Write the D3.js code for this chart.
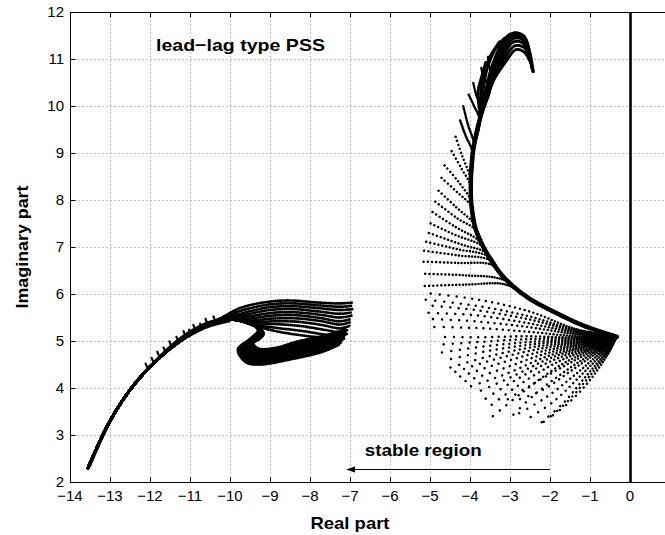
<!DOCTYPE html>
<html>
<head>
<meta charset="utf-8">
<script src="https://cdn.jsdelivr.net/npm/d3@7/dist/d3.min.js"></script>
<style>
  body { margin: 0; background: #fff; }
  svg { display: block; }
  text { font-family: "Liberation Sans", Arial, Helvetica, sans-serif; fill: #000; }
</style>
</head>
<body>
<div id="chart"></div>
<script>
// ---- data ----
var xTicks = [-14, -13, -12, -11, -10, -9, -8, -7, -6, -5, -4, -3, -2, -1, 0, 1];
var yTicks = [2, 3, 4, 5, 6, 7, 8, 9, 10, 11, 12];

// left cluster: common tail, hairs, striped fan, hooked blob
var leftTail = [[-13.55, 2.3], [-13.05, 3.22], [-12.55, 3.9], [-12.0, 4.45], [-11.25, 5.0], [-10.6, 5.32], [-10.0, 5.46]];
var leftTail2 = [[-13.5, 2.34], [-13.0, 3.27], [-12.5, 3.96], [-11.95, 4.51], [-11.25, 5.06], [-10.6, 5.38], [-10.05, 5.51]];
var leftTail3 = [[-13.56, 2.29], [-13.08, 3.19], [-12.58, 3.86], [-12.04, 4.41], [-11.28, 4.96], [-10.6, 5.28], [-10.0, 5.42]];
var leftHairs = [
  [[-12.05, 4.4], [-12.11, 4.52]],
  [[-11.9, 4.52], [-11.96, 4.64]],
  [[-11.75, 4.63], [-11.82, 4.78]],
  [[-11.6, 4.74], [-11.66, 4.86]],
  [[-11.45, 4.85], [-11.52, 5.0]],
  [[-11.28, 4.97], [-11.34, 5.09]],
  [[-11.1, 5.07], [-11.17, 5.23]],
  [[-10.98, 5.14], [-11.03, 5.25]],
  [[-10.85, 5.2], [-10.92, 5.35]],
  [[-10.7, 5.27], [-10.75, 5.38]],
  [[-10.55, 5.33], [-10.62, 5.49]],
  [[-10.35, 5.38], [-10.42, 5.54]]
];
var leftStripes = [
  [[-10.2, 5.5], [-9.75, 5.7], [-9.0, 5.84], [-8.42, 5.86], [-7.83, 5.82], [-7.25, 5.8], [-6.92, 5.82]],
  [[-10.2, 5.49], [-9.7, 5.65], [-9.0, 5.78], [-8.4, 5.8], [-7.8, 5.76], [-7.25, 5.73], [-6.93, 5.75]],
  [[-10.15, 5.48], [-9.65, 5.6], [-9.0, 5.72], [-8.4, 5.74], [-7.8, 5.7], [-7.25, 5.66], [-6.94, 5.68]],
  [[-10.1, 5.47], [-9.6, 5.56], [-9.0, 5.66], [-8.4, 5.68], [-7.8, 5.63], [-7.25, 5.58], [-6.95, 5.61]],
  [[-10.05, 5.47], [-9.55, 5.52], [-8.95, 5.6], [-8.35, 5.61], [-7.75, 5.56], [-7.25, 5.5], [-6.96, 5.54]],
  [[-10.0, 5.46], [-9.5, 5.48], [-8.95, 5.54], [-8.35, 5.55], [-7.75, 5.49], [-7.25, 5.42], [-6.98, 5.47]],
  [[-10.0, 5.46], [-9.45, 5.44], [-8.9, 5.48], [-8.3, 5.48], [-7.7, 5.42], [-7.25, 5.35], [-7.0, 5.4]],
  [[-10.0, 5.46], [-9.4, 5.4], [-8.9, 5.42], [-8.3, 5.41], [-7.7, 5.34], [-7.25, 5.27], [-7.02, 5.32]],
  [[-10.0, 5.46], [-9.35, 5.36], [-8.85, 5.36], [-8.25, 5.32], [-7.65, 5.24], [-7.25, 5.19], [-7.05, 5.24]],
  [[-10.0, 5.46], [-9.3, 5.33], [-8.85, 5.28], [-8.25, 5.22], [-7.65, 5.14], [-7.28, 5.1], [-7.08, 5.15]],
  [[-10.0, 5.46], [-9.3, 5.3], [-8.8, 5.2], [-8.2, 5.12], [-7.6, 5.06], [-7.3, 5.02], [-7.12, 5.06]]
];
var leftHooks = [
  [[-9.45, 5.36], [-9.3, 5.22], [-9.52, 5.03], [-9.8, 4.82], [-9.62, 4.56], [-9.3, 4.5], [-8.5, 4.61], [-7.7, 4.77], [-7.26, 4.93]],
  [[-9.45, 5.36], [-9.28, 5.21], [-9.48, 5.03], [-9.75, 4.83], [-9.58, 4.59], [-9.25, 4.53], [-8.48, 4.65], [-7.69, 4.81], [-7.22, 4.97]],
  [[-9.45, 5.36], [-9.26, 5.2], [-9.45, 5.03], [-9.72, 4.85], [-9.55, 4.62], [-9.2, 4.57], [-8.45, 4.69], [-7.68, 4.85], [-7.2, 5.01]],
  [[-9.43, 5.35], [-9.25, 5.19], [-9.42, 5.03], [-9.68, 4.86], [-9.52, 4.65], [-9.15, 4.6], [-8.43, 4.73], [-7.66, 4.89], [-7.18, 5.04]],
  [[-9.42, 5.35], [-9.24, 5.19], [-9.4, 5.03], [-9.64, 4.87], [-9.49, 4.68], [-9.1, 4.63], [-8.42, 4.76], [-7.65, 4.92], [-7.16, 5.07]],
  [[-9.4, 5.34], [-9.22, 5.18], [-9.36, 5.03], [-9.6, 4.89], [-9.45, 4.71], [-9.05, 4.67], [-8.4, 4.8], [-7.62, 4.96], [-7.14, 5.1]],
  [[-9.39, 5.33], [-9.21, 5.17], [-9.34, 5.04], [-9.57, 4.9], [-9.42, 4.73], [-9.01, 4.7], [-8.39, 4.83], [-7.61, 4.99], [-7.13, 5.13]],
  [[-9.38, 5.33], [-9.2, 5.17], [-9.32, 5.04], [-9.54, 4.91], [-9.4, 4.75], [-8.98, 4.73], [-8.38, 4.86], [-7.6, 5.02], [-7.12, 5.16]],
  [[-9.37, 5.32], [-9.19, 5.16], [-9.3, 5.05], [-9.51, 4.92], [-9.37, 4.77], [-8.95, 4.76], [-8.37, 4.89], [-7.6, 5.05], [-7.11, 5.18]],
  [[-9.36, 5.32], [-9.18, 5.16], [-9.28, 5.05], [-9.48, 4.93], [-9.35, 4.79], [-8.92, 4.79], [-8.36, 4.92], [-7.6, 5.07], [-7.1, 5.2]],
  [[-9.35, 5.31], [-9.17, 5.16], [-9.26, 5.06], [-9.45, 4.95], [-9.32, 4.82], [-8.89, 4.82], [-8.35, 4.95], [-7.6, 5.1], [-7.1, 5.23]],
  [[-9.34, 5.31], [-9.16, 5.16], [-9.24, 5.06], [-9.42, 4.96], [-9.3, 4.84], [-8.86, 4.85], [-8.34, 4.98], [-7.6, 5.12], [-7.1, 5.25]]
];

// right cluster: every locus starts at the same point
var rightStart = [-0.33, 5.09];
var rightEnvelope = [[-0.33, 5.09], [-1.08, 5.30], [-1.83, 5.59], [-2.58, 5.94], [-3.17, 6.37], [-3.58, 6.87], [-3.85, 7.36],
  [-3.96, 7.86], [-3.98, 8.3], [-3.93, 9.0], [-3.76, 9.7], [-3.5, 10.4], [-3.17, 11.1], [-2.88, 11.48], [-2.67, 11.45],
  [-2.5, 11.12], [-2.42, 10.73]];
var rightLower = [
  [[-0.54, 4.74], [-1.0, 4.17], [-1.5, 3.71], [-2.08, 3.32]],
  [[-0.57, 4.75], [-1.08, 4.18], [-1.6, 3.68], [-2.2, 3.25]],
  [[-0.6, 4.76], [-1.15, 4.2], [-1.7, 3.65], [-2.33, 3.19]],
  [[-0.64, 4.78], [-1.25, 4.25], [-1.9, 3.72], [-2.6, 3.32]],
  [[-0.68, 4.8], [-1.35, 4.3], [-2.1, 3.8], [-2.8, 3.45]],
  [[-0.72, 4.82], [-1.45, 4.38], [-2.2, 3.95], [-2.83, 3.74]],
  [[-0.75, 4.84], [-1.55, 4.4], [-2.4, 3.85], [-3.0, 3.36]],
  [[-0.78, 4.86], [-1.62, 4.48], [-2.5, 4.05], [-3.17, 3.7]],
  [[-0.82, 4.88], [-1.75, 4.48], [-2.7, 3.9], [-3.53, 3.33]],
  [[-0.86, 4.89], [-1.82, 4.55], [-2.8, 4.05], [-3.6, 3.55]],
  [[-0.9, 4.9], [-1.9, 4.6], [-2.9, 4.15], [-3.67, 3.74]],
  [[-0.94, 4.92], [-1.98, 4.64], [-3.0, 4.22], [-3.9, 3.88]],
  [[-0.98, 4.93], [-2.05, 4.68], [-3.1, 4.3], [-4.14, 3.99]],
  [[-1.02, 4.95], [-2.12, 4.73], [-3.22, 4.4], [-4.28, 4.1]],
  [[-1.05, 4.96], [-2.2, 4.78], [-3.35, 4.5], [-4.4, 4.2]],
  [[-1.09, 4.98], [-2.28, 4.83], [-3.42, 4.6], [-4.52, 4.3]],
  [[-1.12, 4.99], [-2.35, 4.88], [-3.5, 4.68], [-4.63, 4.4]],
  [[-1.16, 5.01], [-2.42, 4.93], [-3.6, 4.78], [-4.7, 4.57]],
  [[-1.2, 5.03], [-2.5, 4.98], [-3.7, 4.88], [-4.75, 4.75]],
  [[-1.24, 5.05], [-2.55, 5.04], [-3.75, 4.98], [-4.8, 4.92]],
  [[-1.27, 5.07], [-2.6, 5.1], [-3.8, 5.08], [-4.83, 5.09]],
  [[-1.3, 5.1], [-2.6, 5.2], [-3.9, 5.28], [-4.95, 5.3]],
  [[-1.3, 5.14], [-2.58, 5.3], [-3.9, 5.42], [-5.05, 5.47]],
  [[-1.3, 5.17], [-2.55, 5.38], [-3.9, 5.55], [-5.1, 5.6]],
  [[-1.32, 5.2], [-2.52, 5.46], [-3.88, 5.66], [-5.12, 5.76]],
  [[-1.35, 5.23], [-2.5, 5.52], [-3.85, 5.75], [-5.12, 5.88]],
  [[-1.38, 5.26], [-2.48, 5.62], [-3.8, 5.88], [-5.12, 6.02]]
];
// how many envelope points each upper locus follows before it leaves
var rightUpperDepart = [4, 4, 5, 5, 5, 6, 6, 6, 7, 7, 8, 8, 9, 9, 10, 10, 11, 11, 12, 12];
var rightUpperTails = [
  [[-3.1, 6.2], [-4.1, 6.2], [-5.13, 6.17]],
  [[-3.15, 6.3], [-4.2, 6.4], [-5.2, 6.43]],
  [[-3.45, 6.62], [-4.3, 6.66], [-5.21, 6.69]],
  [[-3.5, 6.72], [-4.3, 6.82], [-5.15, 6.92]],
  [[-3.55, 6.8], [-4.3, 6.95], [-5.13, 7.12]],
  [[-4.2, 7.05], [-5.1, 7.32]],
  [[-3.75, 7.05], [-4.35, 7.25], [-5.08, 7.54]],
  [[-3.8, 7.15], [-4.35, 7.42], [-5.0, 7.78]],
  [[-4.3, 7.6], [-4.92, 8.0]],
  [[-3.9, 7.5], [-4.35, 7.85], [-4.85, 8.25]],
  [[-4.3, 8.15], [-4.75, 8.5]],
  [[-3.98, 8.0], [-4.3, 8.4], [-4.65, 8.75]],
  [[-4.2, 8.65], [-4.5, 9.1]],
  [[-4.0, 8.5], [-4.2, 8.95], [-4.38, 9.4]],
  [[-4.1, 9.35], [-4.25, 9.7]],
  [[-3.9, 9.2], [-4.05, 9.6], [-4.17, 10.0]],
  [[-3.9, 10.0], [-4.05, 10.27]],
  [[-3.7, 9.9], [-3.85, 10.25], [-3.92, 10.5]],
  [[-3.65, 10.6], [-3.72, 10.82]],
  [[-3.45, 10.55], [-3.52, 10.85], [-3.55, 11.05]]
];
var rightTopDepart = [12, 12, 17, 12, 12, 12, 11, 11, 11, 11, 11];
var rightTopTails = [
  [[-3.1, 10.95], [-2.85, 11.2], [-2.65, 11.15], [-2.5, 10.95], [-2.42, 10.73]],
  [[-3.15, 10.98], [-2.88, 11.28], [-2.64, 11.24], [-2.5, 11.0], [-2.43, 10.75]],
  [],
  [[-3.2, 10.98], [-2.92, 11.36], [-2.68, 11.34], [-2.51, 11.06], [-2.44, 10.78]],
  [[-3.25, 10.98], [-2.95, 11.42], [-2.7, 11.42], [-2.52, 11.1], [-2.45, 10.8]],
  [[-3.32, 10.95], [-3.05, 11.4], [-2.82, 11.54], [-2.62, 11.45], [-2.5, 11.1]],
  [[-3.55, 10.38], [-3.4, 10.85], [-3.1, 11.38], [-2.85, 11.55], [-2.64, 11.48]],
  [[-3.6, 10.35], [-3.45, 10.85], [-3.15, 11.4], [-2.88, 11.56], [-2.66, 11.5]],
  [[-3.66, 10.4], [-3.55, 10.85], [-3.3, 11.3], [-3.0, 11.53]],
  [[-3.72, 10.4], [-3.62, 10.75], [-3.5, 11.05], [-3.25, 11.38]],
  [[-3.8, 10.3], [-3.7, 10.65], [-3.6, 10.95]]
];

var arrowFrom = [-2.0, 2.28];
var arrowTo = [-7.1, 2.28];
var zeroLine = [[0, 2], [0, 12]];
var noteLabel = { text: "lead\u2212lag type PSS", at: [-11.85, 11.17] };
var regionLabel = { text: "stable region", at: [-6.63, 2.55] };

// ---- drawing ----
var width = 665, height = 535;

var x = d3.scaleLinear().domain([-14, 1]).range([70, 670]);
var y = d3.scaleLinear().domain([2, 12]).range([482, 12]);

var svg = d3.select("#chart").append("svg")
    .attr("width", width)
    .attr("height", height);

svg.append("defs").append("clipPath").attr("id", "plotclip")
    .append("rect").attr("x", 70).attr("y", 12).attr("width", 600).attr("height", 470);

// grid
var grid = svg.append("g").attr("transform", "translate(0.5,0.5)");
grid.selectAll("line.gx")
    .data(xTicks.filter(function (d) { return d > -14 && d < 1; }))
    .enter().append("line")
    .attr("x1", function (d) { return Math.round(x(d)); })
    .attr("x2", function (d) { return Math.round(x(d)); })
    .attr("y1", y(12)).attr("y2", y(2))
    .attr("stroke", "#8a8a8a").attr("stroke-dasharray", "1,3");
grid.selectAll("line.gy")
    .data(yTicks.filter(function (d) { return d > 2 && d < 12; }))
    .enter().append("line")
    .attr("y1", function (d) { return Math.round(y(d)); })
    .attr("y2", function (d) { return Math.round(y(d)); })
    .attr("x1", x(-14)).attr("x2", x(1))
    .attr("stroke", "#8a8a8a").attr("stroke-dasharray", "1,3");

// loci
var plot = svg.append("g").attr("clip-path", "url(#plotclip)");
var line = d3.line()
    .x(function (d) { return x(d[0]); })
    .y(function (d) { return y(d[1]); })
    .curve(d3.curveCatmullRom.alpha(0.5));

function dotted(pts, g0, g1, pw, w) {
    var p = plot.append("path")
        .attr("d", line(pts))
        .attr("fill", "none")
        .attr("stroke", "#000")
        .attr("stroke-width", w)
        .attr("stroke-linecap", "round");
    var L = p.node().getTotalLength();
    var dash = [], s = 0;
    while (s < L + 2) {
        var gap = g0 + (g1 - g0) * Math.pow(s / L, pw);
        dash.push(0.01, gap);
        s += gap;
    }
    p.attr("stroke-dasharray", dash.join(" "));
}

// left cluster
dotted(leftTail, 1.4, 1.4, 1, 2.8);
dotted(leftTail2, 1.4, 1.4, 1, 2.4);
dotted(leftTail3, 1.4, 1.4, 1, 2.2);
leftHairs.forEach(function (h) { dotted(h, 1.0, 1.0, 1, 2.3); });
leftStripes.forEach(function (c) {
    dotted(leftTail.slice(0, 6).concat(c), 1.9, 1.9, 1, 2.8);
});
leftHooks.forEach(function (c) {
    dotted(leftTail.concat(c), 1.5, 1.5, 1, 3.0);
});

// right cluster
rightLower.forEach(function (c) {
    dotted([rightStart].concat(c), 1.2, 10, 1.2, 2.5);
});
rightUpperTails.forEach(function (c, i) {
    var k = rightUpperDepart[i];
    dotted(rightEnvelope.slice(0, k).concat(c), 1.2, k >= 10 ? 1.6 : 4.5, 2, 2.5);
});
dotted(rightEnvelope.slice(0, 13), 1.2, 1.2, 1, 4.6);
rightTopTails.forEach(function (c, i) {
    dotted(rightEnvelope.slice(0, rightTopDepart[i]).concat(c), 1.2, 1.4, 1, 3.0);
});

// zero line
svg.append("path")
    .attr("d", d3.line().x(function (d) { return x(d[0]) + 0.5; }).y(function (d) { return y(d[1]); })(zeroLine))
    .attr("stroke", "#000").attr("stroke-width", 2.6).attr("fill", "none");

// axes box and ticks
var ax = svg.append("g").attr("transform", "translate(0.5,0.5)");
ax.append("rect")
    .attr("x", x(-14)).attr("y", y(12))
    .attr("width", x(1) - x(-14)).attr("height", y(2) - y(12))
    .attr("fill", "none").attr("stroke", "#000");
xTicks.forEach(function (d) {
    var px = Math.round(x(d));
    ax.append("line").attr("x1", px).attr("x2", px).attr("y1", y(2)).attr("y2", y(2) - 5).attr("stroke", "#000");
    ax.append("line").attr("x1", px).attr("x2", px).attr("y1", y(12)).attr("y2", y(12) + 5).attr("stroke", "#000");
});
yTicks.forEach(function (d) {
    var py = Math.round(y(d));
    ax.append("line").attr("x1", x(-14)).attr("x2", x(-14) + 5).attr("y1", py).attr("y2", py).attr("stroke", "#000");
});

var fmt = function (d) { return d < 0 ? "\u2212" + Math.abs(d) : String(d); };
svg.selectAll("text.xt").data(xTicks).enter().append("text")
    .attr("x", function (d) { return x(d); })
    .attr("y", 501)
    .attr("text-anchor", "middle")
    .style("font-size", "15px")
    .text(fmt);
svg.selectAll("text.yt").data(yTicks).enter().append("text")
    .attr("x", 64)
    .attr("y", function (d) { return y(d); })
    .attr("dy", "0.32em")
    .attr("text-anchor", "end")
    .style("font-size", "15px")
    .text(fmt);

// axis titles
svg.append("text")
    .attr("x", 350).attr("y", 529)
    .attr("text-anchor", "middle")
    .attr("textLength", 79).attr("lengthAdjust", "spacingAndGlyphs")
    .style("font-size", "17px").style("font-weight", "bold")
    .text("Real part");
svg.append("text")
    .attr("transform", "translate(28,247) rotate(-90)")
    .attr("text-anchor", "middle")
    .attr("textLength", 123).attr("lengthAdjust", "spacingAndGlyphs")
    .style("font-size", "17px").style("font-weight", "bold")
    .text("Imaginary part");

// annotations
svg.append("text")
    .attr("x", x(noteLabel.at[0])).attr("y", y(noteLabel.at[1]))
    .attr("textLength", 169).attr("lengthAdjust", "spacingAndGlyphs")
    .style("font-size", "17px").style("font-weight", "bold")
    .text(noteLabel.text);
svg.append("text")
    .attr("x", x(regionLabel.at[0])).attr("y", y(regionLabel.at[1]))
    .attr("textLength", 117).attr("lengthAdjust", "spacingAndGlyphs")
    .style("font-size", "17px").style("font-weight", "bold")
    .text(regionLabel.text);

var ay = Math.round(y(arrowFrom[1])) + 0.5;
svg.append("line")
    .attr("x1", x(arrowFrom[0])).attr("x2", x(arrowTo[0]) + 6)
    .attr("y1", ay).attr("y2", ay)
    .attr("stroke", "#000").attr("stroke-width", 1.2);
svg.append("path")
    .attr("d", "M" + x(arrowTo[0]) + "," + ay + "l9,-3l0,6z")
    .attr("fill", "#000");
</script>
</body>
</html>
